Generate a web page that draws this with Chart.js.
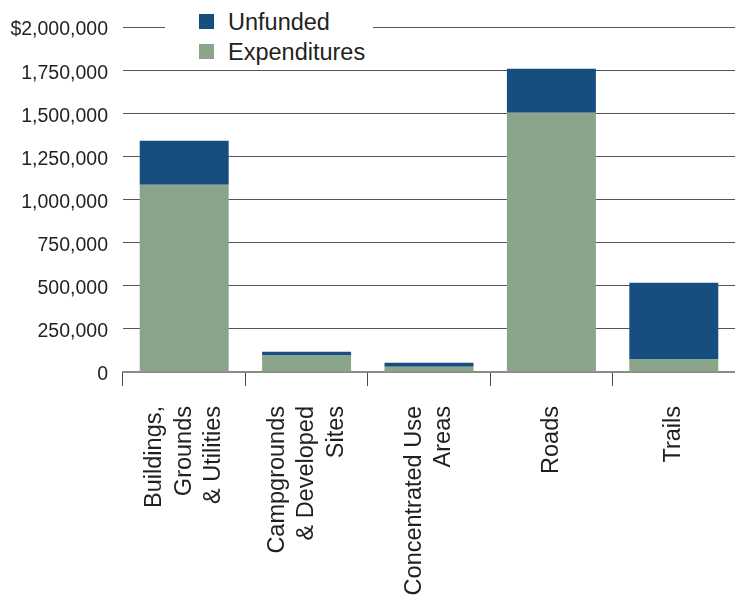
<!DOCTYPE html>
<html>
<head>
<meta charset="utf-8">
<script src="https://cdn.jsdelivr.net/npm/chart.js@4/dist/chart.umd.min.js"></script>
<style>
  html, body { margin: 0; padding: 0; background: #fff; }
  #wrap { position: relative; width: 735px; height: 598px; }
  #chart { position: absolute; left: 0; top: 0; }
  #legend {
    position: absolute; left: 165px; top: 7px; width: 208px; height: 60px;
    background: #fff; font-family: "Liberation Sans", Arial, sans-serif;
    font-size: 23.5px; color: #231f20;
  }
  .item { position: absolute; left: 34px; height: 30px; line-height: 30px; white-space: nowrap; }
  .item .sw { position: absolute; left: 0; top: 7px; width: 15px; height: 15px; }
  .item .tx { position: absolute; left: 29px; top: 0; }
</style>
</head>
<body>
<div id="wrap">
  <canvas id="chart" width="735" height="598"></canvas>
  <div id="legend"></div>
</div>
<script>
// Categories (multi-line names), series values and axis ticks
const categories = [
  ["Buildings,", "Grounds", "& Utilities"],
  ["Campgrounds", "& Developed", "Sites"],
  ["Concentrated Use", "Areas"],
  ["Roads"],
  ["Trails"]
];
const expenditures = [1085000, 95000, 31000, 1503000, 72000];
const unfunded = [256000, 23000, 23000, 255000, 446000];
const yTicks = [0, 250000, 500000, 750000, 1000000, 1250000, 1500000, 1750000, 2000000];

const seriesNames = ["Expenditures", "Unfunded"];
const seriesColors = ["#8aa58a", "#164e80"];

const INK = "#231f20";

// Rotated, centred multi-line category labels under each bar
const categoryLabels = {
  id: "categoryLabels",
  afterDraw(chart) {
    const xs = chart.scales.x;
    const ctx = chart.ctx;
    const pitch = 29.5;
    ctx.save();
    ctx.fillStyle = INK;
    ctx.font = '23.5px "Liberation Sans", Arial, sans-serif';
    ctx.textAlign = "right";
    ctx.textBaseline = "middle";
    categories.forEach((lines, i) => {
      const cx = xs.getPixelForValue(i);
      ctx.save();
      ctx.translate(cx, xs.top + 34);
      ctx.rotate(-Math.PI / 2);
      lines.forEach((line, j) => {
        ctx.fillText(line, 0, (j - (lines.length - 1) / 2) * pitch);
      });
      ctx.restore();
    });
    ctx.restore();
  }
};

const fmt = v => {
  const s = v.toLocaleString("en-US");
  return v === 2000000 ? "$" + s : s;
};

new Chart(document.getElementById("chart"), {
  type: "bar",
  data: {
    labels: categories.map(c => c.join(" ")),
    datasets: [
      { label: seriesNames[0], data: expenditures, backgroundColor: seriesColors[0] },
      { label: seriesNames[1], data: unfunded, backgroundColor: seriesColors[1] }
    ]
  },
  options: {
    responsive: false,
    animation: false,
    layout: { padding: { top: 27, right: 0, left: 0, bottom: 0 } },
    datasets: { bar: { categoryPercentage: 1.0, barPercentage: 0.727, borderWidth: 0 } },
    plugins: { legend: { display: false }, tooltip: { enabled: false } },
    scales: {
      x: {
        stacked: true,
        offset: true,
        grid: {
          offset: true,
          drawOnChartArea: false,
          drawTicks: true,
          tickLength: 14,
          color: "#4a4a4a",
          lineWidth: 1
        },
        border: { display: true, color: "#8a8a8a", width: 2 },
        ticks: { display: false },
        afterFit(scale) { scale.height = 598 - 372; }
      },
      y: {
        stacked: true,
        min: 0,
        max: 2000000,
        afterBuildTicks(scale) { scale.ticks = yTicks.map(v => ({ value: v })); },
        grid: {
          drawTicks: false,
          color: ctx => (ctx.tick && ctx.tick.value === 0) ? "rgba(0,0,0,0)" : "#555555",
          lineWidth: 1
        },
        border: { display: false },
        ticks: {
          padding: 15,
          labelOffset: 3,
          color: INK,
          font: { family: '"Liberation Sans", Arial, sans-serif', size: 19.5 },
          callback: v => fmt(v)
        },
        afterFit(scale) { scale.width = 123; }
      }
    }
  },
  plugins: [categoryLabels]
});

// Legend: top series first
const legend = document.getElementById("legend");
[1, 0].forEach((k, row) => {
  const it = document.createElement("div");
  it.className = "item";
  it.style.top = (row * 30) + "px";
  it.innerHTML = '<span class="sw" style="background:' + seriesColors[k] + '"></span><span class="tx">' + seriesNames[k] + '</span>';
  legend.appendChild(it);
});
</script>
</body>
</html>
